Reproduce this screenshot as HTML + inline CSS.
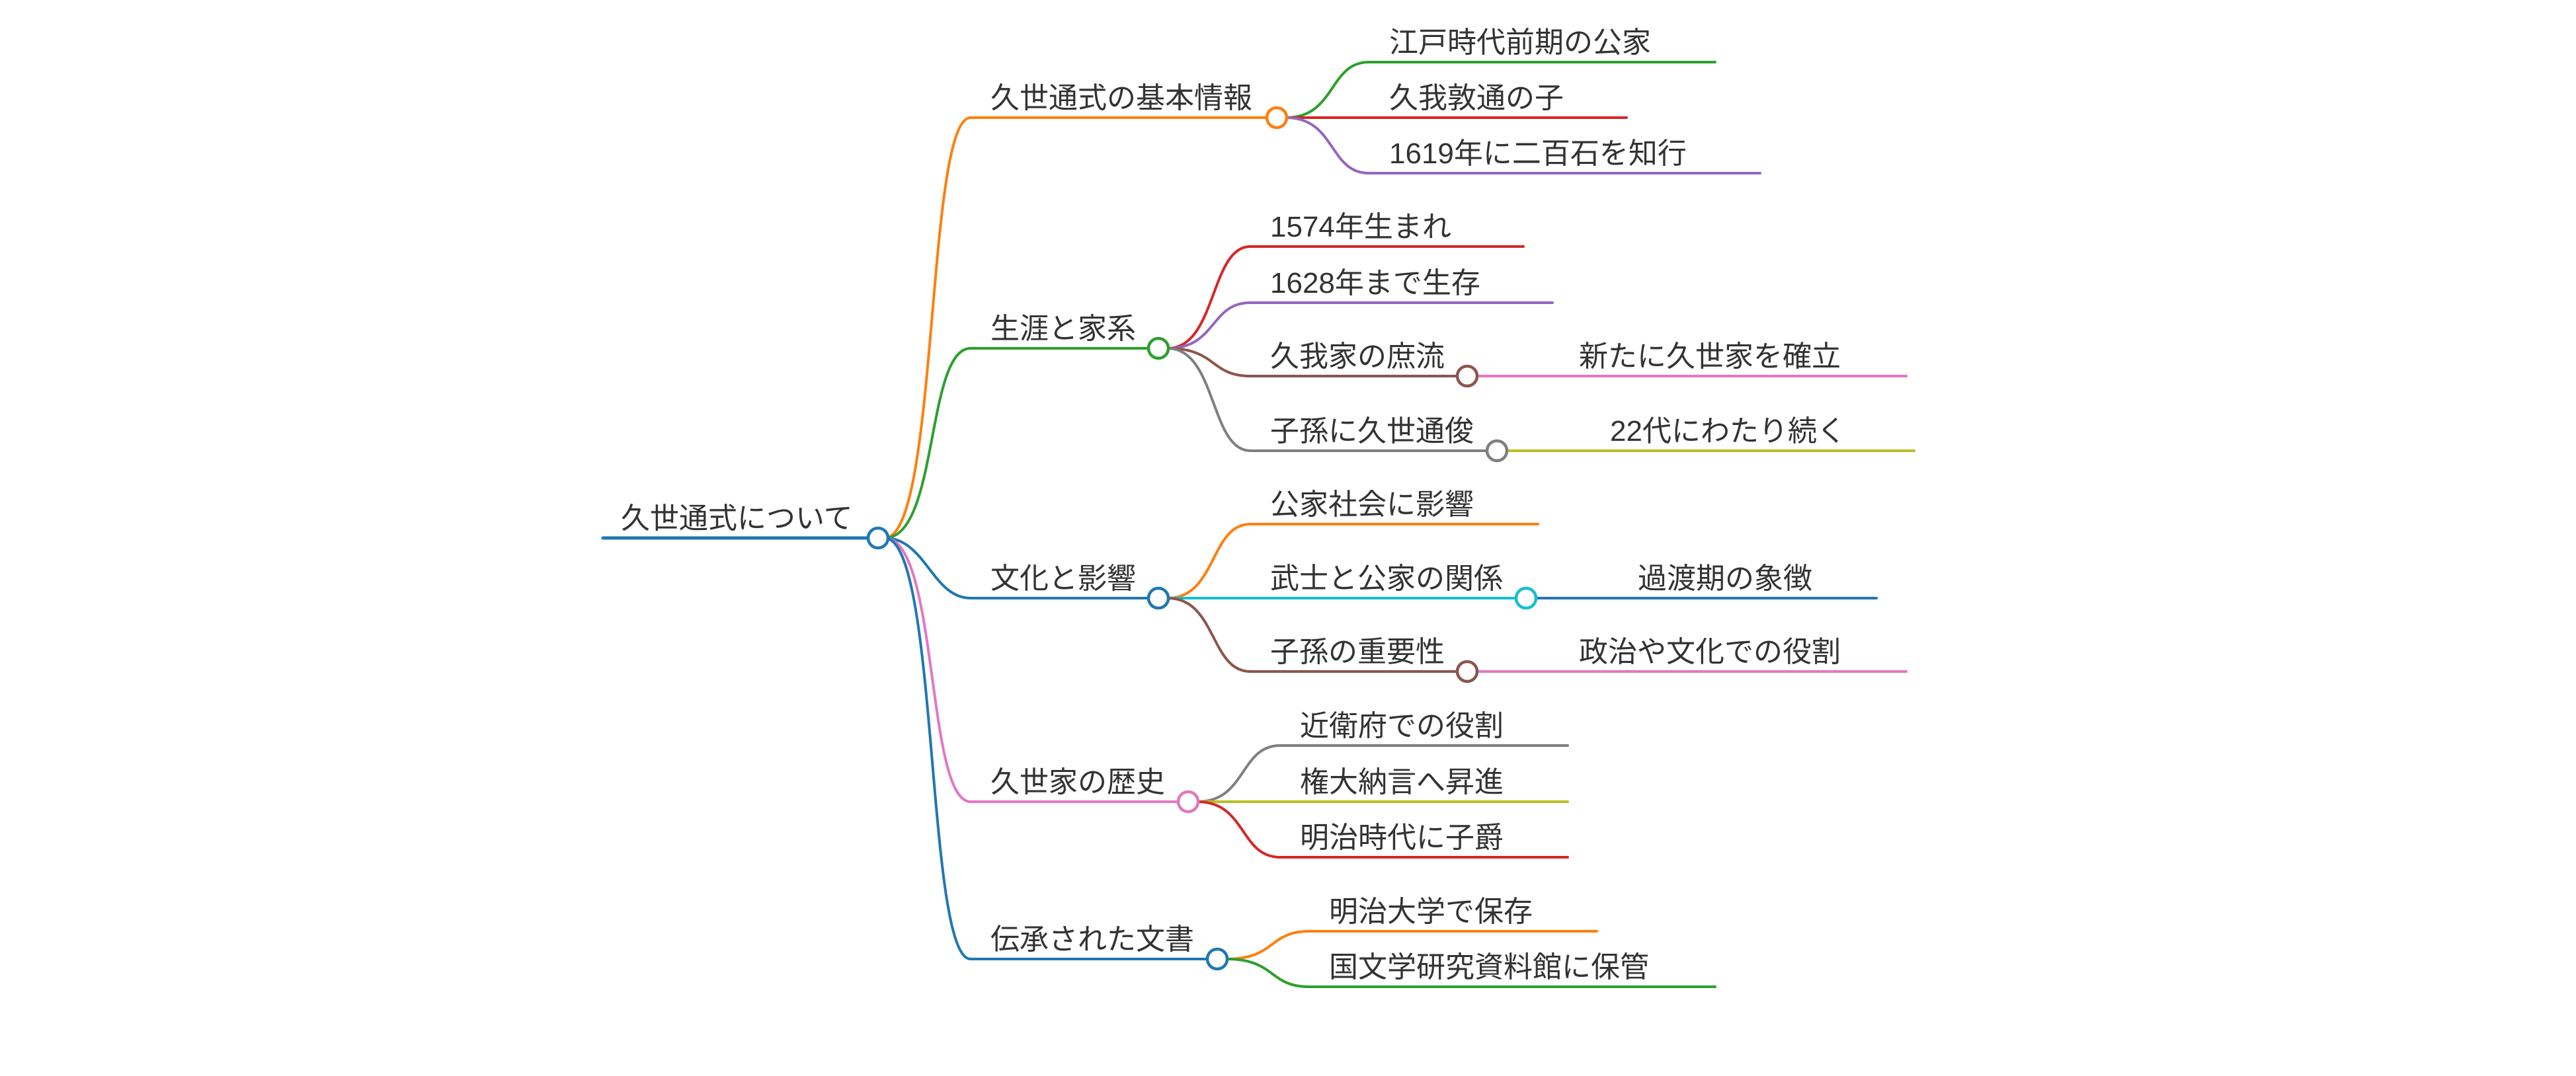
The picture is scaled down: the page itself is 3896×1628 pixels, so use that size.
<!DOCTYPE html>
<html><head><meta charset="utf-8"><style>
html,body{margin:0;padding:0;background:#fff;}
svg{display:block;}
text{font-family:"Liberation Sans","Noto Sans CJK JP",sans-serif;font-size:44px;fill:#333;}
</style></head><body>
<svg width="3896" height="1628" viewBox="0 0 3896 1628" xmlns="http://www.w3.org/2000/svg">
<g fill="none" stroke-width="4" stroke-linecap="round">
<path d="M912 814 H1314" stroke="#1f77b4" stroke-width="5"/>
<path d="M1338 814 C1420 814 1400 178 1468 178 H1917" stroke="#ff7f0e"/>
<path d="M1338 814 C1420 814 1400 527 1468 527 H1738" stroke="#2ca02c"/>
<path d="M1338 814 C1400 814 1410 905 1468 905 H1738" stroke="#1f77b4"/>
<path d="M1338 814 C1420 814 1400 1213 1468 1213 H1783" stroke="#e377c2"/>
<path d="M1338 814 C1420 814 1400 1451 1468 1451 H1827" stroke="#1f77b4"/>
<path d="M1945 178 C2020 178 2010 94 2070 94 H2594" stroke="#2ca02c"/>
<path d="M1945 178 H2460" stroke="#d62728"/>
<path d="M1945 178 C2020 178 2010 262 2070 262 H2662" stroke="#9467bd"/>
<path d="M1766 527 C1840 527 1830 373 1891 373 H2304" stroke="#d62728"/>
<path d="M1766 527 C1840 527 1830 458 1891 458 H2348" stroke="#9467bd"/>
<path d="M1766 527 C1840 527 1830 569 1891 569 H2205" stroke="#8c564b"/>
<path d="M1766 527 C1840 527 1830 682 1891 682 H2250" stroke="#7f7f7f"/>
<path d="M2233 569 H2883" stroke="#e377c2"/>
<path d="M2278 682 H2895" stroke="#bcbd22"/>
<path d="M1766 905 C1840 905 1830 793 1891 793 H2326" stroke="#ff7f0e"/>
<path d="M1766 905 H2294" stroke="#17becf"/>
<path d="M1766 905 C1840 905 1830 1016 1891 1016 H2205" stroke="#8c564b"/>
<path d="M2322 905 H2838" stroke="#1f77b4"/>
<path d="M2233 1016 H2883" stroke="#e377c2"/>
<path d="M1811 1213 C1885 1213 1875 1128 1936 1128 H2371" stroke="#7f7f7f"/>
<path d="M1811 1213 H2371" stroke="#bcbd22"/>
<path d="M1811 1213 C1885 1213 1875 1297 1936 1297 H2371" stroke="#d62728"/>
<path d="M1855 1451 C1929 1451 1919 1409 1980 1409 H2415" stroke="#ff7f0e"/>
<path d="M1855 1451 C1929 1451 1919 1493 1980 1493 H2594" stroke="#2ca02c"/>
</g>
<g fill="#fff" stroke-width="4.5">
<circle cx="1328" cy="814" r="15" stroke="#1f77b4"/>
<circle cx="1931" cy="178" r="15" stroke="#ff7f0e"/>
<circle cx="1752" cy="527" r="15" stroke="#2ca02c"/>
<circle cx="1752" cy="905" r="15" stroke="#1f77b4"/>
<circle cx="1797" cy="1213" r="15" stroke="#e377c2"/>
<circle cx="1841" cy="1451" r="15" stroke="#1f77b4"/>
<circle cx="2219" cy="569" r="15" stroke="#8c564b"/>
<circle cx="2264" cy="682" r="15" stroke="#7f7f7f"/>
<circle cx="2308" cy="905" r="15" stroke="#17becf"/>
<circle cx="2219" cy="1016" r="15" stroke="#8c564b"/>
</g>
<g>
<text x="939" y="799">久世通式について</text>
<text x="1498" y="163">久世通式の基本情報</text>
<text x="1498" y="512">生涯と家系</text>
<text x="1498" y="890">文化と影響</text>
<text x="1498" y="1198">久世家の歴史</text>
<text x="1498" y="1436">伝承された文書</text>
<text x="2101" y="79">江戸時代前期の公家</text>
<text x="2101" y="163">久我敦通の子</text>
<text x="2101" y="247">1619年に二百石を知行</text>
<text x="1921" y="358">1574年生まれ</text>
<text x="1921" y="443">1628年まで生存</text>
<text x="1921" y="554">久我家の庶流</text>
<text x="1921" y="667">子孫に久世通俊</text>
<text x="2388" y="554">新たに久世家を確立</text>
<text x="2435" y="667">22代にわたり続く</text>
<text x="1921" y="778">公家社会に影響</text>
<text x="1921" y="890">武士と公家の関係</text>
<text x="1921" y="1001">子孫の重要性</text>
<text x="2477" y="890">過渡期の象徴</text>
<text x="2388" y="1001">政治や文化での役割</text>
<text x="1966" y="1113">近衛府での役割</text>
<text x="1966" y="1198">権大納言へ昇進</text>
<text x="1966" y="1282">明治時代に子爵</text>
<text x="2010" y="1394">明治大学で保存</text>
<text x="2010" y="1478">国文学研究資料館に保管</text>
</g>
</svg>
</body></html>
